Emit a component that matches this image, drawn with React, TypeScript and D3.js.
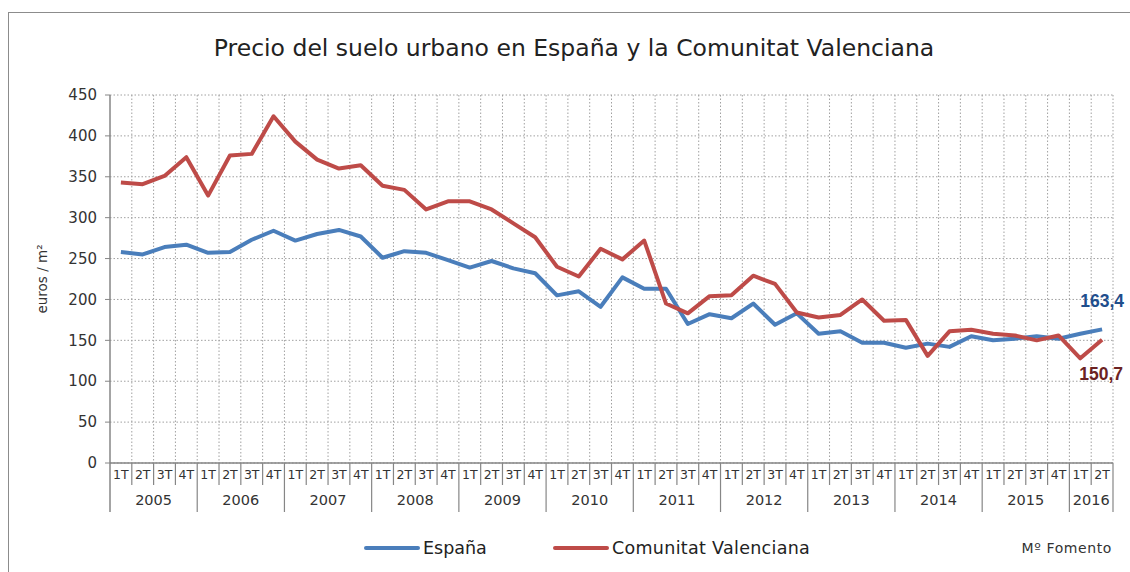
import React from 'react';
import * as d3 from 'd3';

// quarterly data, 2005 1T .. 2016 2T
const years = [2005, 2006, 2007, 2008, 2009, 2010, 2011, 2012, 2013, 2014, 2015, 2016];
const quarters = ['1T', '2T', '3T', '4T'];
const espana = [
  258, 255, 264, 267, 257, 258, 273, 284, 272, 280, 285, 277,
  251, 259, 257, 248, 239, 247, 238, 232, 205, 210, 191, 227,
  213, 213, 170, 182, 177, 195, 169, 183, 158, 161, 147, 147,
  141, 146, 142, 155, 150, 152, 155, 152, 158, 163.4,
];
const valenciana = [
  343, 341, 351, 374, 327, 376, 378, 424, 393, 371, 360, 364,
  339, 334, 310, 320, 320, 310, 293, 276, 240, 228, 262, 249,
  272, 195, 183, 204, 205, 229, 219, 184, 178, 181, 200, 174,
  175, 131, 161, 163, 158, 156, 150, 156, 128, 150.7,
];
const yTicks = [0, 50, 100, 150, 200, 250, 300, 350, 400, 450];

const FONT = "'DejaVu Sans', sans-serif";
const BLUE = '#4a7ebb';
const RED = '#be4b48';
const GRID = '#a0a0a0';
const AXIS = '#868686';

const cats = years.flatMap(y => quarters.map(q => `${y}-${q}`)).slice(0, espana.length);

const App = () => {
  const left = 110, right = 1113, top = 95, bottom = 463;
  const x = d3.scaleBand().domain(cats).range([left, right]).padding(0);
  const y = d3.scaleLinear().domain([0, 450]).range([bottom, top]);
  const cx = (i: number) => (x(cats[i]) as number) + x.bandwidth() / 2;

  const line = d3.line<number>().x((_, i) => cx(i)).y(d => y(d));

  const yearGroups = years.map(yr => {
    const idx = cats.map((c, i) => (c.startsWith(String(yr)) ? i : -1)).filter(i => i >= 0);
    const x0 = x(cats[idx[0]]) as number;
    const x1 = (x(cats[idx[idx.length - 1]]) as number) + x.bandwidth();
    return { yr, x0, x1 };
  });

  const last = espana.length - 1;
  const fmt = (v: number) => d3.format('.1f')(v).replace('.', ',');

  return (
    <svg width={1130} height={572} style={{ position: 'absolute', left: 0, top: 0, background: '#fff' }}>
      {/* outer frame */}
      <line x1={8.5} x2={8.5} y1={12} y2={572} stroke="#8c8c8c" />
      <line x1={8} x2={1130} y1={12.5} y2={12.5} stroke="#8c8c8c" />

      <text x={574} y={56} textAnchor="middle" fontFamily={FONT} fontSize={23.5} fill="#222">
        Precio del suelo urbano en España y la Comunitat Valenciana
      </text>

      {/* grid */}
      {yTicks.map(t => (
        <line key={'h' + t} x1={left} x2={right} y1={y(t)} y2={y(t)} stroke={GRID} strokeDasharray="1.5,2" />
      ))}
      {cats.map(c => (
        <line key={'v' + c} x1={(x(c) as number) + x.bandwidth()} x2={(x(c) as number) + x.bandwidth()}
          y1={top} y2={bottom} stroke={GRID} strokeDasharray="1.5,2" />
      ))}

      {/* y axis */}
      <line x1={left} x2={left} y1={top} y2={512} stroke={AXIS} strokeWidth={1.5} />
      {yTicks.map(t => (
        <g key={'yt' + t}>
          <line x1={left - 5} x2={left} y1={y(t)} y2={y(t)} stroke={AXIS} />
          <text x={left - 13} y={y(t)} dy="0.35em" textAnchor="end" fontFamily={FONT} fontSize={15} fill="#333">{t}</text>
        </g>
      ))}
      <text transform={`translate(47,${(top + bottom) / 2}) rotate(-90)`} textAnchor="middle"
        fontFamily={FONT} fontSize={13.5} fill="#333">euros / m²</text>

      {/* x axis */}
      <line x1={left} x2={right} y1={bottom} y2={bottom} stroke={AXIS} strokeWidth={1.5} />
      {cats.map((c, i) => {
        const x1 = (x(c) as number) + x.bandwidth();
        const isYearEnd = c.endsWith('4T') || i === cats.length - 1;
        return (
          <g key={'xt' + c}>
            <line x1={x1} x2={x1} y1={bottom} y2={isYearEnd ? 512 : 485} stroke={AXIS} strokeWidth={1.2} />
            <text x={cx(i)} y={479} textAnchor="middle" fontFamily={FONT} fontSize={12.5} fill="#333">
              {c.split('-')[1]}
            </text>
          </g>
        );
      })}
      {yearGroups.map(g => (
        <text key={'yr' + g.yr} x={(g.x0 + g.x1) / 2} y={505} textAnchor="middle" fontFamily={FONT} fontSize={14.5} fill="#333">
          {g.yr}
        </text>
      ))}

      {/* series */}
      <path d={line(espana) as string} fill="none" stroke={BLUE} strokeWidth={4} strokeLinejoin="round" />
      <path d={line(valenciana) as string} fill="none" stroke={RED} strokeWidth={4} strokeLinejoin="round" />

      <text x={1124} y={y(espana[last]) - 22} textAnchor="end" fontFamily="'Liberation Sans', sans-serif" fontWeight="bold"
        fontSize={17.5} fill="#1f4e8c">{fmt(espana[last])}</text>
      <text x={1123} y={y(valenciana[last]) + 40} textAnchor="end" fontFamily="'Liberation Sans', sans-serif" fontWeight="bold"
        fontSize={17.5} fill="#6b2222">{fmt(valenciana[last])}</text>

      {/* legend */}
      <line x1={366} x2={418} y1={548} y2={548} stroke={BLUE} strokeWidth={4} strokeLinecap="round" />
      <text x={423} y={548} dy="0.35em" fontFamily={FONT} fontSize={17.5} fill="#222">España</text>
      <line x1={555} x2={607} y1={548} y2={548} stroke={RED} strokeWidth={4} strokeLinecap="round" />
      <text x={612} y={548} dy="0.35em" fontFamily={FONT} fontSize={17.5} letterSpacing={0.3} fill="#222">Comunitat Valenciana</text>
      <text x={1112} y={548} dy="0.35em" textAnchor="end" fontFamily={FONT} fontSize={14} letterSpacing={0.6} fill="#333">Mº Fomento</text>
    </svg>
  );
};

export default App;
